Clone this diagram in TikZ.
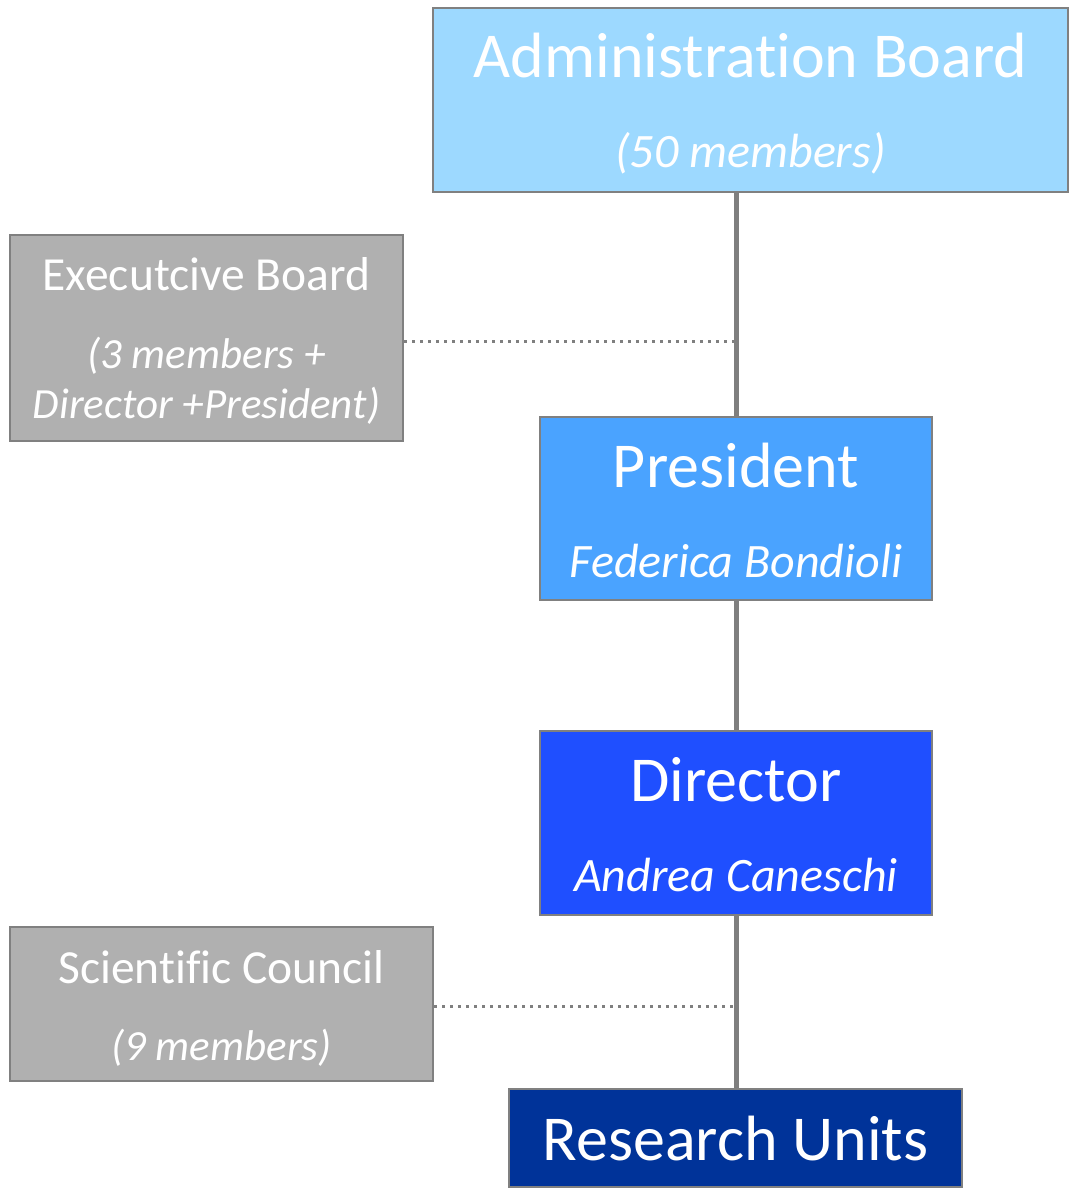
\documentclass[tikz,border=0pt]{standalone}
\usepackage{fontspec}
\setmainfont{Carlito}[Ligatures={NoCommon}]
\definecolor{adminc}{RGB}{157,217,255}
\definecolor{presc}{RGB}{74,163,255}
\definecolor{dirc}{RGB}{31,79,255}
\definecolor{resc}{RGB}{0,51,153}
\definecolor{grayc}{RGB}{176,176,176}
\definecolor{edgec}{RGB}{128,128,128}
\definecolor{linec}{RGB}{127,127,127}
\newcommand{\nl}{\kern0pt{}}
\begin{document}
\begin{tikzpicture}[x=1pt,y=-1pt,
  box/.style={draw=edgec,line width=2pt,inner sep=0pt},
  txt/.style={text=white,anchor=base,inner sep=0pt},
  big/.style={font=\fontsize{64}{70}\selectfont},
  mid/.style={font=\fontsize{48}{54}\selectfont\itshape},
  gbig/.style={font=\fontsize{47.5}{52}\selectfont},
  gmid/.style={font=\fontsize{43}{48}\selectfont\itshape},
  solidline/.style={draw=linec,line width=5pt},
  dotline/.style={draw=linec,line width=3pt,dash pattern=on 3pt off 5pt}]
\useasboundingbox (0,0) rectangle (1076,1188);
% boxes
\node[box,fill=adminc,minimum width=635pt,minimum height=184pt] (admin) at (750.5,100) {};
\node[box,fill=grayc,minimum width=393pt,minimum height=206pt] (exec) at (206.5,338) {};
\node[box,fill=presc,minimum width=392pt,minimum height=183pt] (pres) at (736,508.5) {};
\node[box,fill=dirc,minimum width=392pt,minimum height=184pt] (dir) at (736,823) {};
\node[box,fill=grayc,minimum width=423pt,minimum height=154pt] (sci) at (221.5,1004) {};
\node[box,fill=resc,minimum width=453pt,minimum height=98pt] (res) at (735.5,1138) {};
% texts
\node[txt,big] (adminT) at (750.5,78) {Administrat\nl ion Board};
\node[txt,mid] (adminS) at (750.5,167) {(50 members)};
\node[txt,gbig] (execT) at (206.5,290) {Executcive Board};
\node[txt,gmid] (execS1) at (206.5,368) {(3 members +};
\node[txt,gmid] (execS2) at (206.5,418) {Director +President)};
\node[txt,big] (presT) at (736,487) {President};
\node[txt,mid] (presS) at (736,577) {Federica Bondioli};
\node[txt,big] (dirT) at (736,801) {Director};
\node[txt,mid] (dirS) at (736,891) {Andrea Caneschi};
\node[txt,gbig] (sciT) at (221.5,983) {Scient\nl if\nl ic Council};
\node[txt,gmid] (sciS) at (221.5,1060) {(9 members)};
\node[txt,big] (resT) at (735.5,1160) {Research Units};
% connectors
\coordinate (topj) at (736,192);
\coordinate (execj) at (736,341);
\coordinate (scij) at (736,1006);
\draw[solidline] (topj) -- (pres.north);
\draw[solidline] (pres.south) -- (dir.north);
\draw[solidline] (dir.south) -- (dir.south |- res.north);
\draw[dotline] (exec.east |- execj) -- (execj);
\draw[dotline] (sci.east |- scij) -- (scij);
\end{tikzpicture}
\end{document}
